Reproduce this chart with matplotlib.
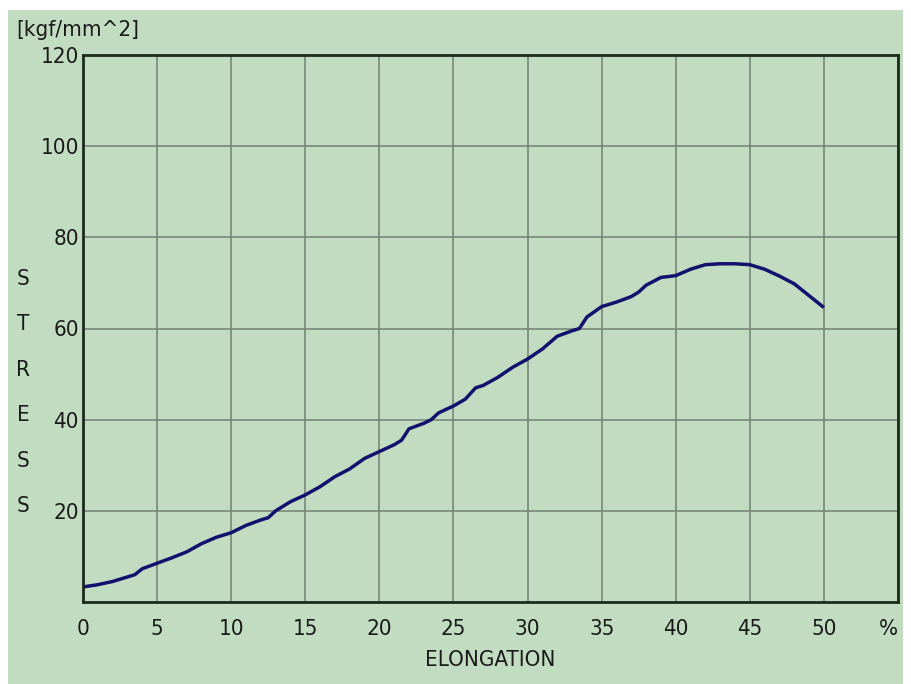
import matplotlib
matplotlib.use('Agg')
import matplotlib.pyplot as plt
from matplotlib.patches import Rectangle

plt.rcParams['font.family'] = ['Liberation Sans Narrow', 'DejaVu Sans']
plt.rcParams['font.stretch'] = 'condensed'

# elongation (%) and stress (kgf/mm^2)
elong = [0, 1, 2, 3, 3.5, 4, 5, 6, 7, 8, 9, 10, 11, 12, 12.5, 13, 14, 15, 16, 17,
         18, 19, 20, 21, 21.5, 22, 23, 23.5, 24, 25, 25.8, 26.5, 27, 28, 29, 30,
         31, 32, 33, 33.5, 34, 35, 36, 37, 37.5, 38, 39, 40, 41, 42, 43, 44, 45,
         46, 47, 48, 49, 50]
stress = [3.3, 3.8, 4.5, 5.5, 6.0, 7.3, 8.5, 9.7, 11.0, 12.8, 14.2, 15.2, 16.8,
          18.0, 18.5, 20.0, 22.0, 23.5, 25.3, 27.5, 29.2, 31.5, 33.0, 34.5, 35.5,
          38.0, 39.2, 40.0, 41.5, 43.0, 44.5, 47.0, 47.5, 49.3, 51.5, 53.3, 55.5,
          58.3, 59.5, 60.0, 62.5, 64.8, 65.8, 67.0, 68.0, 69.5, 71.2, 71.6, 73.0,
          74.0, 74.2, 74.2, 74.0, 73.0, 71.5, 69.8, 67.2, 64.6]

xticks = [0, 5, 10, 15, 20, 25, 30, 35, 40, 45, 50, 55]
xlabels = ['0', '5', '10', '15', '20', '25', '30', '35', '40', '45', '50', '%']
yticks = [20, 40, 60, 80, 100, 120]

bg = '#c2dcc1'
fs = 16
fig = plt.figure(figsize=(9.12, 6.84), dpi=100, facecolor='white')
# green panel behind everything
fig.patches.append(Rectangle((8/912, 0), 895/912, 674/684, transform=fig.transFigure,
                             facecolor=bg, edgecolor='none', zorder=-10))

ax = fig.add_axes([83/912, 1 - 602/684, 815/912, 547/684])
ax.set_zorder(5)
ax.set_facecolor(bg)
ax.plot(elong, stress, color='#12126e', lw=2.5, solid_capstyle='butt')
ax.set_xlim(0, 55)
ax.set_ylim(0, 120)
ax.set_xticks(xticks)
ax.set_xticklabels(xlabels)
ax.get_xticklabels()[-1].set_ha('right')  # keep "%" inside the panel
ax.set_yticks(yticks)
ax.tick_params(length=0, labelsize=fs, colors='#1a1a1a', pad=12)
ax.tick_params(axis='y', pad=3)
ax.grid(True, color='#78867a', lw=1.2)
ax.set_axisbelow(True)
for s in ax.spines.values():
    s.set_color('#1c2a1c')
    s.set_linewidth(2)

fig.text(490/912, 1 - 660/684, 'ELONGATION', ha='center', va='center', fontsize=fs, color='#1a1a1a', zorder=6)
fig.text(16/912, 1 - 30/684, '[kgf/mm^2]', ha='left', va='center', fontsize=fs, color='#1a1a1a', zorder=6)
for i, ch in enumerate('STRESS'):
    fig.text(23/912, 1 - (279 + i * 45.5)/684, ch, ha='center', va='center', fontsize=fs,
             color='#1a1a1a', zorder=6)

fig.savefig('out.png', dpi=100, facecolor='white')
